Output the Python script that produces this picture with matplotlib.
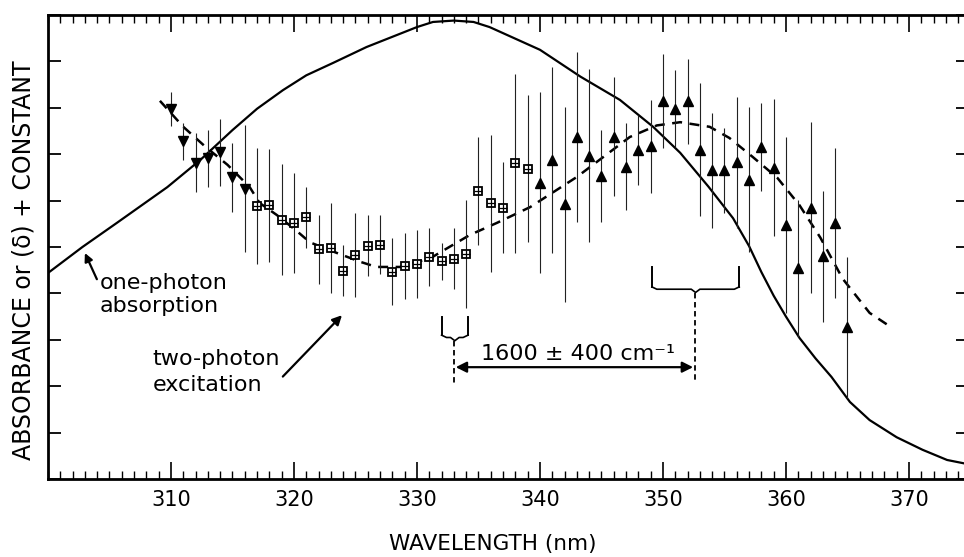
import numpy as np
import matplotlib.pyplot as plt
from matplotlib.ticker import MultipleLocator

plt.rcParams.update({
    'font.family': 'DejaVu Sans',
    'font.size': 14,
})

# two-photon excitation points (wavelength nm, value, half error bar)
wl_down = [310, 311, 312, 313, 314, 315, 316]
y_down = [7.97, 7.28, 6.82, 6.91, 7.04, 6.50, 6.26]
err_down = [0.37, 0.40, 0.64, 0.61, 0.72, 0.74, 1.37]

wl_sq = [317, 318, 319, 320, 321, 322, 323, 324, 325, 326, 327, 328,
         329, 330, 331, 332, 333, 334, 335, 336, 337, 338, 339]
y_sq = [5.88, 5.90, 5.59, 5.52, 5.64, 4.95, 4.98, 4.49, 4.83, 5.03, 5.05, 4.47,
        4.59, 4.63, 4.78, 4.69, 4.75, 4.85, 6.21, 5.94, 5.85, 6.80, 6.69]
err_sq = [1.25, 1.22, 1.20, 1.08, 0.66, 0.74, 0.97, 0.55, 0.90, 0.66, 0.64, 0.72,
          0.71, 0.73, 0.63, 0.40, 0.66, 1.17, 1.17, 1.48, 0.98, 1.93, 1.58]

wl_up = [340, 341, 342, 343, 344, 345, 346, 347, 348, 349, 350, 351, 352,
         353, 354, 355, 356, 357, 358, 359, 360, 361, 362, 363, 364, 365]
y_up = [6.39, 6.88, 5.92, 7.37, 6.97, 6.53, 7.38, 6.73, 7.09, 7.17, 8.15, 7.98, 8.14,
        7.10, 6.65, 6.65, 6.83, 6.45, 7.16, 6.71, 5.47, 4.54, 5.85, 4.80, 5.52, 3.27]
err_up = [1.95, 2.00, 2.10, 1.83, 1.86, 0.99, 1.28, 0.94, 0.75, 1.00, 1.01, 0.83, 0.92,
          1.43, 1.24, 0.92, 1.41, 1.56, 0.95, 1.48, 1.90, 1.48, 1.84, 1.41, 1.62, 1.52]

# dashed fit through the two-photon data
wl_fit = [309.1, 311.0, 312.8, 314.6, 316.4, 317.2, 318.6, 320.2, 321.3, 323.5,
          325.4, 326.7, 328.6, 331.1, 332.5, 334.3, 336.5, 339.2, 343.0, 347.3,
          349.5, 351.4, 353.8, 355.4, 357.3, 359.3, 361.1, 362.8, 364.6, 366.8, 368.5]
y_fit = [8.15, 7.59, 7.16, 6.77, 6.29, 5.95, 5.69, 5.35, 5.10, 4.87,
         4.68, 4.57, 4.57, 4.76, 4.98, 5.26, 5.52, 5.86, 6.51, 7.37,
         7.62, 7.69, 7.59, 7.35, 6.94, 6.49, 5.90, 5.20, 4.32, 3.58, 3.28]

# one-photon absorption spectrum
wl_abs = [300.0, 302.8, 305.6, 309.7, 312.4, 315.0, 317.0, 319.1, 321.0, 323.2,
          325.9, 330.0, 331.3, 333.0, 334.6, 335.9, 340.0, 343.3, 346.5, 349.2,
          351.4, 353.7, 355.7, 357.0, 358.0, 359.0, 360.0, 361.1, 362.4, 363.7,
          365.2, 366.8, 369.0, 371.1, 373.1, 374.8]
y_abs = [4.44, 5.00, 5.52, 6.29, 6.88, 7.52, 7.98, 8.38, 8.70, 8.97,
         9.31, 9.74, 9.85, 9.88, 9.85, 9.74, 9.25, 8.67, 8.17, 7.59,
         7.03, 6.30, 5.62, 5.02, 4.46, 3.95, 3.50, 3.04, 2.60, 2.20,
         1.66, 1.27, 0.90, 0.63, 0.41, 0.32]

# origins of the two bands and the 1600 cm-1 spacing
band_lo = [332.0, 334.15]
band_hi = [349.1, 356.2]
origin_lo = 333.0
origin_hi = 352.6

fig = plt.figure(figsize=(9.64, 5.57), dpi=100)
ax = fig.add_axes([48 / 964, 78 / 557, 920 / 964, 464 / 557])

ax.plot(wl_abs, y_abs, color='black', lw=1.6)
ax.plot(wl_fit, y_fit, color='black', lw=1.8, ls=(0, (4, 3)))

eb = dict(fmt='none', ecolor='#222222', elinewidth=0.8, capsize=0)
ax.errorbar(wl_down, y_down, yerr=err_down, **eb)
ax.errorbar(wl_sq, y_sq, yerr=err_sq, **eb)
ax.errorbar(wl_up, y_up, yerr=err_up, **eb)
ax.plot(wl_down, y_down, 'v', color='black', ms=7)
ax.plot(wl_sq, y_sq, 's', mfc='white', mec='black', mew=1.3, ms=5.5)
ax.plot(wl_sq, y_sq, '+', color='black', mew=0.9, ms=5.5)
ax.plot(wl_up, y_up, '^', color='black', ms=7.5)

# brackets marking the band origins
def bracket(x1, x2, ytop, ybot):
    xc = (x1 + x2) / 2
    ax.plot([x1, x1], [ytop, ybot], color='black', lw=1.4)
    ax.plot([x2, x2], [ytop, ybot], color='black', lw=1.4)
    bx = [x1, x1 + 0.4, xc - 0.35, xc, xc + 0.35, x2 - 0.4, x2]
    by = [ybot, ybot - 0.05, ybot - 0.05, ybot - 0.12, ybot - 0.05, ybot - 0.05, ybot]
    ax.plot(bx, by, color='black', lw=1.2)

bracket(band_lo[0], band_lo[1], 3.49, 3.10)
bracket(band_hi[0], band_hi[1], 4.57, 4.14)
ax.plot([origin_lo, origin_lo], [2.98, 2.07], color='black', lw=1.3, ls=(0, (3, 2)))
ax.plot([origin_hi, origin_hi], [4.00, 2.07], color='black', lw=1.3, ls=(0, (3, 2)))
ax.annotate('', xy=(origin_lo + 0.15, 2.41), xytext=(origin_hi - 0.15, 2.41),
            arrowprops=dict(arrowstyle='<|-|>', color='black', lw=1.6,
                            mutation_scale=16, shrinkA=0, shrinkB=0))
ax.text(343.1, 2.69, '1600 ± 400 cm⁻¹', ha='center', va='center', fontsize=16)

ax.annotate('one-photon\nabsorption', xy=(303.0, 4.87), xytext=(304.2, 3.97),
            ha='left', va='center', fontsize=16, linespacing=1.2,
            arrowprops=dict(arrowstyle='-|>', color='black', lw=1.6,
                            mutation_scale=12, shrinkA=0, shrinkB=0,
                            relpos=(0, 0.72)))
ax.annotate('two-photon\nexcitation', xy=(323.9, 3.53), xytext=(308.5, 2.31),
            ha='left', va='center', fontsize=16, linespacing=1.4,
            arrowprops=dict(arrowstyle='-|>', color='black', lw=1.6,
                            mutation_scale=14, shrinkA=0, shrinkB=0,
                            relpos=(0.97, 0.25)))

ax.set_xlim(300, 374.8)
ax.set_ylim(0, 10)
ax.xaxis.set_major_locator(MultipleLocator(10))
ax.xaxis.set_minor_locator(MultipleLocator(1))
ax.yaxis.set_major_locator(MultipleLocator(1))
ax.set_xticks(np.arange(310, 371, 10))
ax.tick_params(axis='x', which='major', direction='in', length=12, width=1.2,
               top=True, bottom=True, labelsize=15, pad=8)
ax.tick_params(axis='x', which='minor', direction='in', length=6, width=1.0,
               top=True, bottom=True)
ax.tick_params(axis='y', which='major', direction='in', length=9, width=1.3,
               left=True, right=True, labelleft=False)
for s in ax.spines.values():
    s.set_linewidth(2.0)

ax.set_xlabel('WAVELENGTH (nm)', fontsize=15.5)
ax.xaxis.set_label_coords(0.483, -0.118)
ax.set_ylabel('ABSORBANCE or (δ) + CONSTANT', fontsize=17)
ax.yaxis.set_label_coords(-0.014, 0.472)

fig.savefig('out.png', dpi=100)
